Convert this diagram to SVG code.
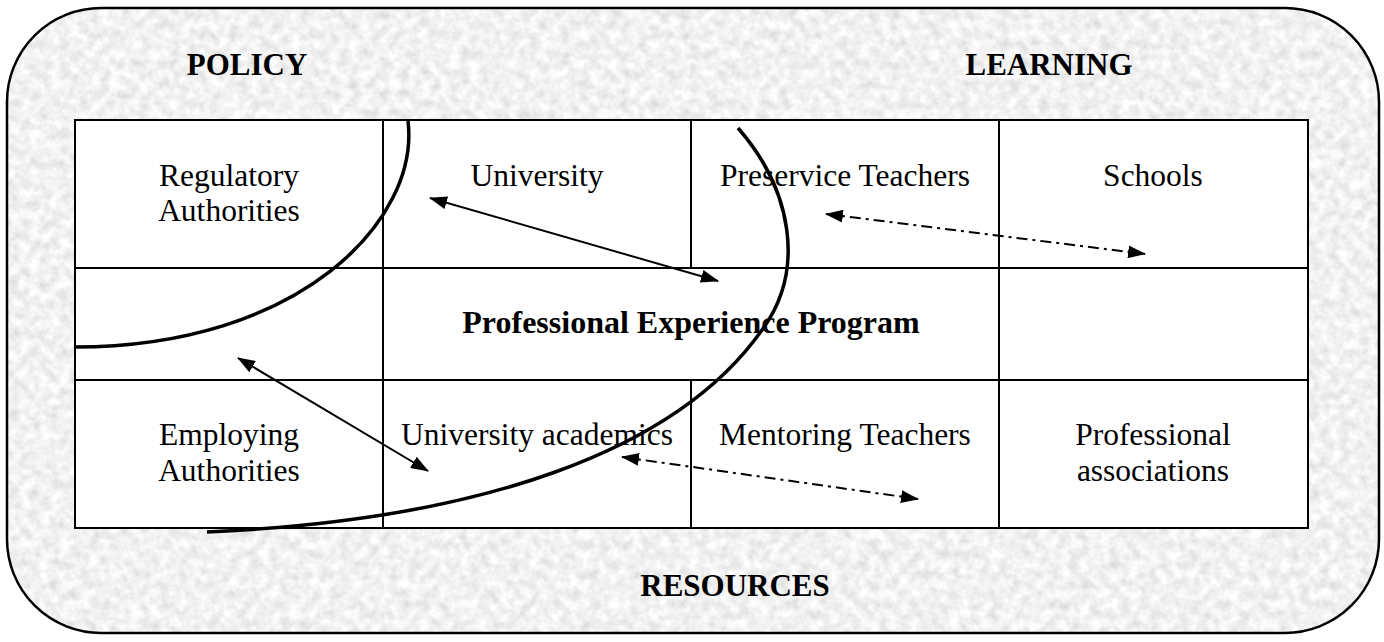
<svg xmlns="http://www.w3.org/2000/svg" width="1384" height="642" viewBox="0 0 1384 642">
<defs>
<filter id="granite" x="0" y="0" width="100%" height="100%" filterUnits="objectBoundingBox">
<feTurbulence type="fractalNoise" baseFrequency="0.1" numOctaves="3" seed="7" result="n"/>
<feColorMatrix in="n" type="matrix" values="0.45 0 0 0 0.66  0.45 0 0 0 0.66  0.45 0 0 0 0.66  0 0 0 0 1" result="g"/>
<feComposite in="g" in2="SourceGraphic" operator="in"/>
</filter>
<marker id="ah" viewBox="0 0 18 13" refX="17" refY="6.5" markerWidth="18" markerHeight="13" markerUnits="userSpaceOnUse" orient="auto-start-reverse">
<path d="M0 0 L18 6.5 L0 13 Z" fill="#000"/>
</marker>
<style>
.cell{fill:#fff;stroke:#000;stroke-width:2}
.t{font-family:"Liberation Serif","Times New Roman",serif;font-size:31.5px;fill:#000;text-anchor:middle}
.b{font-weight:bold;font-size:31px}
.curve{fill:none;stroke:#000;stroke-width:3.5;stroke-linecap:butt}
.arr{fill:none;stroke:#000;stroke-width:2}
.dd{stroke-dasharray:11 5 3 5}
</style>
</defs>
<g id="frame">
<rect x="7" y="8" width="1372" height="625" rx="94" ry="94" fill="#e2e2e2" filter="url(#granite)"/>
<rect x="7" y="8" width="1372" height="625" rx="94" ry="94" fill="none" stroke="#000" stroke-width="2.5"/>
</g>
<g id="headings">
<text class="t b" x="247" y="75">POLICY</text>
<text class="t b" x="1049" y="75">LEARNING</text>
<text class="t b" x="735" y="596">RESOURCES</text>
</g>
<g id="node-regulatory">
<rect class="cell" x="75" y="120" width="308" height="148"/>
<text class="t" x="229" y="186">Regulatory</text>
<text class="t" x="229" y="221">Authorities</text>
</g>
<g id="node-university">
<rect class="cell" x="383" y="120" width="308" height="148"/>
<text class="t" x="537" y="186">University</text>
</g>
<g id="node-preservice">
<rect class="cell" x="691" y="120" width="308" height="148"/>
<text class="t" x="845" y="186">Preservice Teachers</text>
</g>
<g id="node-schools">
<rect class="cell" x="999" y="120" width="309" height="148"/>
<text class="t" x="1153" y="186">Schools</text>
</g>
<g id="node-mid-left">
<rect class="cell" x="75" y="268" width="308" height="112"/>
</g>
<g id="node-pep">
<rect class="cell" x="383" y="268" width="616" height="112"/>
<text class="t b" x="691" y="333" style="font-size:32px">Professional Experience Program</text>
</g>
<g id="node-mid-right">
<rect class="cell" x="999" y="268" width="309" height="112"/>
</g>
<g id="node-employing">
<rect class="cell" x="75" y="380" width="308" height="148"/>
<text class="t" x="229" y="445">Employing</text>
<text class="t" x="229" y="481">Authorities</text>
</g>
<g id="node-academics">
<rect class="cell" x="383" y="380" width="308" height="148"/>
<text class="t" x="537" y="445">University academics</text>
</g>
<g id="node-mentoring">
<rect class="cell" x="691" y="380" width="308" height="148"/>
<text class="t" x="845" y="445">Mentoring Teachers</text>
</g>
<g id="node-associations">
<rect class="cell" x="999" y="380" width="309" height="148"/>
<text class="t" x="1153" y="445">Professional</text>
<text class="t" x="1153" y="481">associations</text>
</g>
<g id="connectors">
<path class="curve" d="M408 121 C420 220 300 347 75 347"/>
<path class="curve" d="M738 128 C792 190 806 270 762 330 C676 452 480 520 207 532"/>
<line class="arr" x1="430" y1="198" x2="718" y2="281" marker-start="url(#ah)" marker-end="url(#ah)"/>
<line class="arr dd" x1="826" y1="214" x2="1145" y2="254" marker-start="url(#ah)" marker-end="url(#ah)"/>
<line class="arr" x1="238" y1="358" x2="428" y2="471" marker-start="url(#ah)" marker-end="url(#ah)"/>
<line class="arr dd" x1="622" y1="457" x2="918" y2="499" marker-start="url(#ah)" marker-end="url(#ah)"/>
</g>
</svg>
